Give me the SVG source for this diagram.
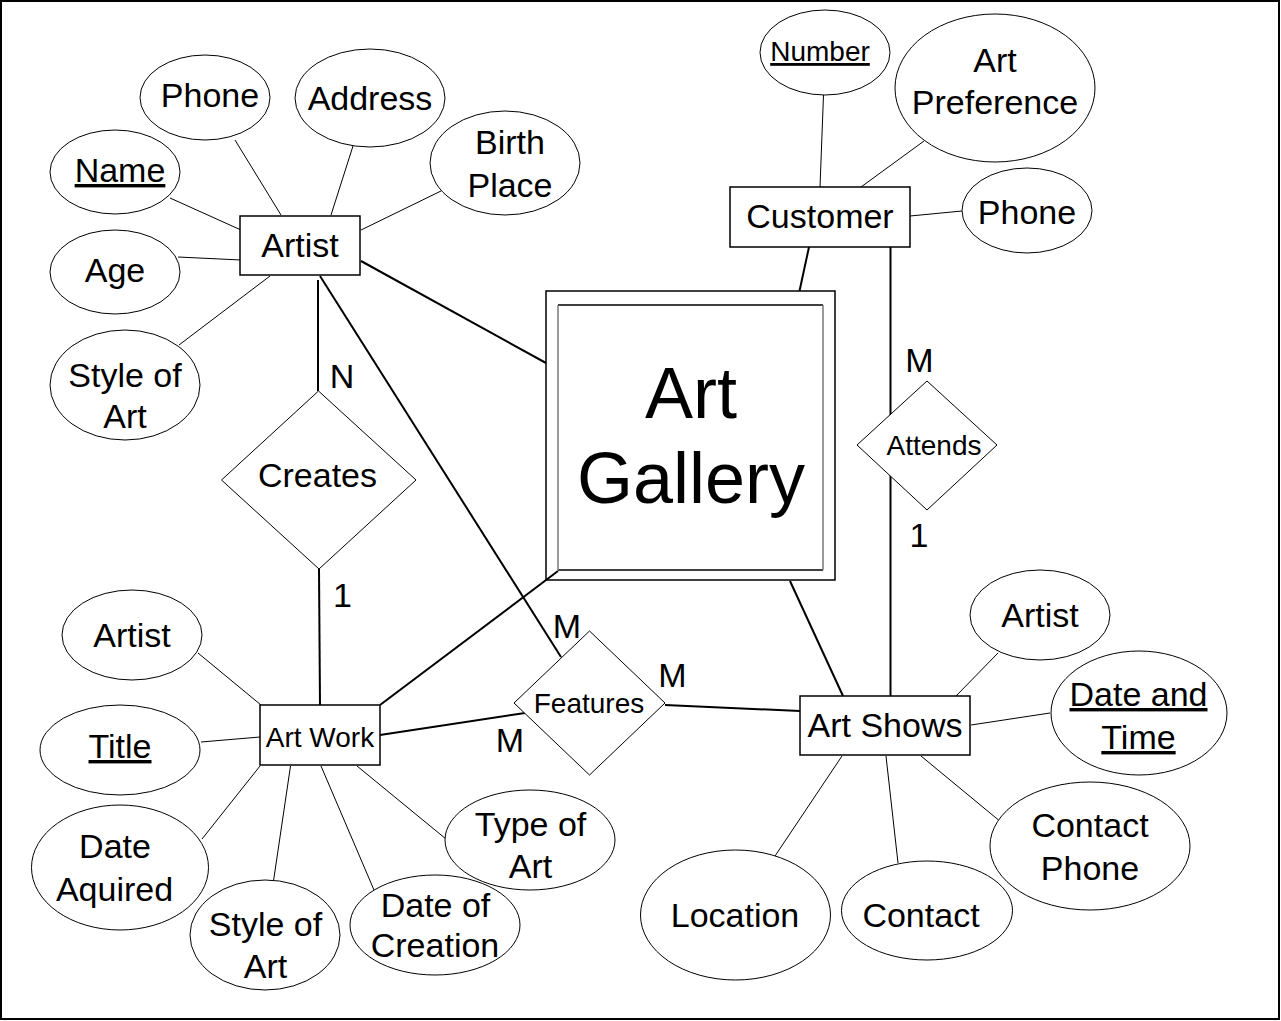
<svg xmlns="http://www.w3.org/2000/svg" width="1281" height="1021" viewBox="0 0 1281 1021">
<style>
text{font-family:"Liberation Sans",Arial,sans-serif;fill:#000;text-anchor:middle}
.t{font-size:34px}
.s{font-size:28px}
.big{font-size:72px}
.u{text-decoration:underline}
.ent{fill:#fff;stroke:#000;stroke-width:1.5}
.att{fill:#fff;stroke:#000;stroke-width:1}
.rel{fill:#fff;stroke:#000;stroke-width:1}
.thin{stroke:#000;stroke-width:1;fill:none}
.thick{stroke:#000;stroke-width:2;fill:none}
</style>
<rect x="0" y="0" width="1281" height="1021" fill="#fff"/>
<rect x="1" y="1" width="1278" height="1018" fill="none" stroke="#000" stroke-width="2"/>

<g id="connectors">
<line class="thin" x1="235" y1="140" x2="281" y2="215"/>
<line class="thin" x1="353" y1="146" x2="331" y2="215"/>
<line class="thin" x1="441" y1="191" x2="361" y2="230"/>
<line class="thin" x1="170" y1="198" x2="241" y2="230"/>
<line class="thin" x1="178" y1="257" x2="241" y2="260"/>
<line class="thin" x1="179" y1="345" x2="270" y2="276"/>
<line class="thick" x1="361" y1="261" x2="546" y2="363"/>
<line class="thick" x1="318" y1="280" x2="318" y2="391"/>
<line class="thick" x1="320" y1="276" x2="561" y2="657"/>
<line class="thick" x1="319" y1="569" x2="320" y2="705"/>
<line class="thick" x1="380" y1="705" x2="558" y2="571"/>
<line class="thick" x1="380" y1="735" x2="525" y2="713"/>
<line class="thick" x1="665" y1="705" x2="800" y2="711"/>
<line class="thick" x1="790" y1="581" x2="843" y2="696"/>
<line class="thick" x1="809" y1="247" x2="799.5" y2="291"/>
<line class="thick" x1="890.5" y1="247" x2="890.5" y2="696"/>
<line class="thin" x1="823.5" y1="95" x2="820" y2="187"/>
<line class="thin" x1="924" y1="141" x2="861" y2="187"/>
<line class="thin" x1="910" y1="216" x2="962" y2="211"/>
<line class="thin" x1="998" y1="653" x2="956" y2="696"/>
<line class="thin" x1="1050" y1="713" x2="971" y2="725"/>
<line class="thin" x1="998.5" y1="820" x2="921" y2="756"/>
<line class="thin" x1="898" y1="863" x2="886" y2="756"/>
<line class="thin" x1="775" y1="856" x2="842" y2="756"/>
<line class="thin" x1="198" y1="653" x2="261" y2="705"/>
<line class="thin" x1="201" y1="742" x2="260" y2="737"/>
<line class="thin" x1="202" y1="839" x2="260" y2="766"/>
<line class="thin" x1="273.5" y1="881" x2="290.5" y2="766"/>
<line class="thin" x1="374" y1="890" x2="321" y2="766"/>
<line class="thin" x1="446" y1="839" x2="357" y2="766"/>
<text class="t" x="342" y="388">N</text>
<text class="t" x="342.5" y="607">1</text>
<text class="t" x="567" y="638">M</text>
<text class="t" x="510" y="752">M</text>
<text class="t" x="672.5" y="687">M</text>
<text class="t" x="919.5" y="372">M</text>
<text class="t" x="919" y="547">1</text>
</g>

<g id="art-gallery">
<rect x="546" y="291" width="289" height="289" fill="none" stroke="#000" stroke-width="1.5"/>
<rect x="558" y="305" width="265" height="265" fill="#fff" stroke="none"/>
<line x1="558" y1="305" x2="823" y2="305" stroke="#000" stroke-width="1.5"/>
<line x1="558" y1="570" x2="823" y2="570" stroke="#000" stroke-width="1.5"/>
<line x1="558" y1="305" x2="558" y2="570" stroke="#777" stroke-width="1.5"/>
<line x1="823" y1="305" x2="823" y2="570" stroke="#777" stroke-width="1.5"/>
<text class="big" x="691" y="418">Art</text>
<text class="big" x="691" y="503">Gallery</text>
</g>

<g id="artist">
<rect class="ent" x="240" y="216" width="120" height="59"/>
<text class="t" x="300" y="257">Artist</text>
</g>
<g id="artist-phone"><ellipse class="att" cx="205" cy="97.5" rx="65" ry="42.5"/><text class="t" x="210" y="107">Phone</text></g>
<g id="artist-address"><ellipse class="att" cx="370" cy="98" rx="75" ry="49"/><text class="t" x="370" y="110">Address</text></g>
<g id="artist-birthplace"><ellipse class="att" cx="505" cy="163" rx="75" ry="52"/><text class="t"><tspan x="510" y="154">Birth</tspan><tspan x="510" y="197">Place</tspan></text></g>
<g id="artist-name"><ellipse class="att" cx="115" cy="172" rx="65" ry="42"/><text class="t u" x="120" y="182">Name</text></g>
<g id="artist-age"><ellipse class="att" cx="115" cy="272" rx="65" ry="42"/><text class="t" x="115" y="282">Age</text></g>
<g id="artist-style"><ellipse class="att" cx="125" cy="385" rx="75" ry="55"/><text class="t"><tspan x="125" y="387">Style of</tspan><tspan x="125" y="428">Art</tspan></text></g>

<g id="creates">
<polygon class="rel" points="318.5,391 416,480 319,569 221.5,480"/>
<text class="t" x="317.5" y="487">Creates</text>
</g>

<g id="customer">
<rect class="ent" x="730" y="187" width="180" height="60"/>
<text class="t" x="820" y="228">Customer</text>
</g>
<g id="customer-number"><ellipse class="att" cx="825" cy="52.5" rx="65" ry="42.5"/><text class="s u" x="820" y="61">Number</text></g>
<g id="customer-artpref"><ellipse class="att" cx="995" cy="88" rx="100" ry="74"/><text class="t"><tspan x="995" y="72">Art</tspan><tspan x="995" y="114">Preference</tspan></text></g>
<g id="customer-phone"><ellipse class="att" cx="1027" cy="210.5" rx="65" ry="42.5"/><text class="t" x="1027" y="224">Phone</text></g>

<g id="attends">
<polygon class="rel" points="927,381 997,445 927,510 857,445"/>
<text class="s" x="934" y="455">Attends</text>
</g>

<g id="art-work">
<rect class="ent" x="260" y="705" width="120" height="60"/>
<text class="s" x="320" y="747">Art Work</text>
</g>
<g id="artwork-artist"><ellipse class="att" cx="132" cy="635" rx="70" ry="45"/><text class="t" x="132" y="647">Artist</text></g>
<g id="artwork-title"><ellipse class="att" cx="120" cy="750" rx="80" ry="45"/><text class="t u" x="120" y="758">Title</text></g>
<g id="artwork-dateacq"><ellipse class="att" cx="120" cy="867.5" rx="88.5" ry="62.5"/><text class="t"><tspan x="115" y="858">Date</tspan><tspan x="114.5" y="901">Aquired</tspan></text></g>
<g id="artwork-style"><ellipse class="att" cx="265" cy="935" rx="75" ry="55"/><text class="t"><tspan x="265.5" y="936">Style of</tspan><tspan x="265.5" y="978">Art</tspan></text></g>
<g id="artwork-datecreation"><ellipse class="att" cx="435" cy="925" rx="85" ry="50"/><text class="t"><tspan x="435.5" y="917">Date of</tspan><tspan x="435" y="957">Creation</tspan></text></g>
<g id="artwork-type"><ellipse class="att" cx="530" cy="840" rx="85" ry="50"/><text class="t"><tspan x="530.5" y="836">Type of</tspan><tspan x="530.5" y="878">Art</tspan></text></g>

<g id="features">
<polygon class="rel" points="589.5,631 665,703 589.5,775 514,703"/>
<text class="s" x="589" y="713">Features</text>
</g>

<g id="art-shows">
<rect class="ent" x="800" y="696" width="170" height="59"/>
<text class="t" x="885" y="737">Art Shows</text>
</g>
<g id="shows-artist"><ellipse class="att" cx="1040" cy="615" rx="70" ry="45"/><text class="t" x="1040" y="627">Artist</text></g>
<g id="shows-datetime"><ellipse class="att" cx="1139" cy="713" rx="88" ry="62"/><text class="t u"><tspan x="1138.5" y="706">Date and</tspan><tspan x="1138.5" y="749">Time</tspan></text></g>
<g id="shows-contactphone"><ellipse class="att" cx="1090" cy="846" rx="100" ry="64"/><text class="t"><tspan x="1090" y="837">Contact</tspan><tspan x="1090" y="880">Phone</tspan></text></g>
<g id="shows-contact"><ellipse class="att" cx="927" cy="910.5" rx="85.5" ry="49.5"/><text class="t" x="921" y="927">Contact</text></g>
<g id="shows-location"><ellipse class="att" cx="735.5" cy="915" rx="95" ry="65"/><text class="t" x="735" y="927">Location</text></g>
</svg>
